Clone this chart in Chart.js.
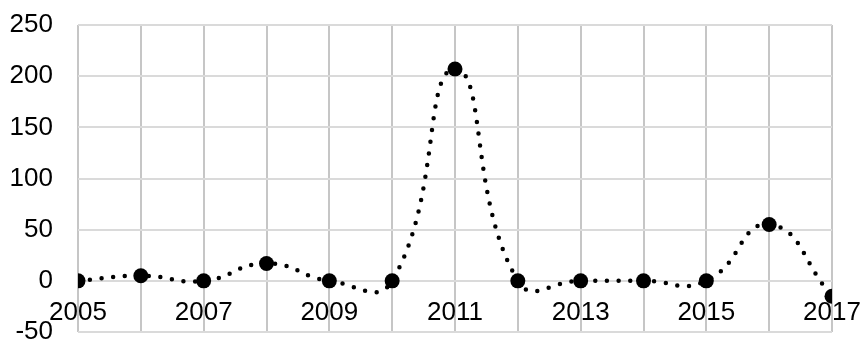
<!DOCTYPE html>
<html>
<head>
<meta charset="utf-8">
<script src="https://cdn.jsdelivr.net/npm/chart.js@4/dist/chart.umd.min.js"></script>
<style>
  html, body { margin: 0; padding: 0; background: #fff; }
  #wrap { width: 861px; height: 342px; position: relative; }
</style>
</head>
<body>
<div id="wrap"><canvas id="yearly"></canvas></div>
<script>
const years = [2005, 2006, 2007, 2008, 2009, 2010, 2011, 2012, 2013, 2014, 2015, 2016, 2017];
const values = [0, 5, 0, 17, 0, 0, 207, 0, 0, 0, 0, 55, -15];
const yTicks = [-50, 0, 50, 100, 150, 200, 250];

const points = years.map((yr, i) => ({ x: yr, y: values[i] }));

Chart.defaults.font.family = '"Liberation Sans", Arial, sans-serif';
Chart.defaults.font.size = 26;
Chart.defaults.color = '#000';

new Chart("yearly", {
  type: "line",
  data: {
    datasets: [{
      data: points,
      borderColor: '#000',
      borderWidth: 4.5,
      borderDash: [0, 11.8],
      borderCapStyle: 'round',
      tension: 0.5,
      pointRadius: 7.5,
      pointBackgroundColor: '#000',
      pointBorderWidth: 0
    }]
  },
  options: {
    responsive: true,
    maintainAspectRatio: false,
    animation: false,
    layout: { padding: { top: 25, right: 29, bottom: 10, left: 0 } },
    plugins: { legend: { display: false }, tooltip: { enabled: false } },
    scales: {
      x: {
        type: 'linear',
        position: { y: 0 },
        min: years[0],
        max: years[years.length - 1],
        // axis sits on the zero line, so it takes no room of its own
        afterFit: s => { s.height = 0; s.paddingLeft = 0; s.paddingRight = 0; },
        grid: { color: '#c6c6c6', lineWidth: 2, drawTicks: false },
        border: { display: false },
        ticks: {
          stepSize: 1,
          autoSkip: false,
          maxRotation: 0,
          padding: 16,
          callback: v => (v % 2 ? String(v) : '')
        }
      },
      y: {
        min: yTicks[0],
        max: yTicks[yTicks.length - 1],
        afterFit: s => { s.width = 78; s.paddingTop = 0; s.paddingBottom = 0; },
        grid: { color: '#dadada', lineWidth: 2, drawTicks: false },
        border: { display: false },
        ticks: { stepSize: 50, padding: 25 }
      }
    }
  }
});
</script>
</body>
</html>
